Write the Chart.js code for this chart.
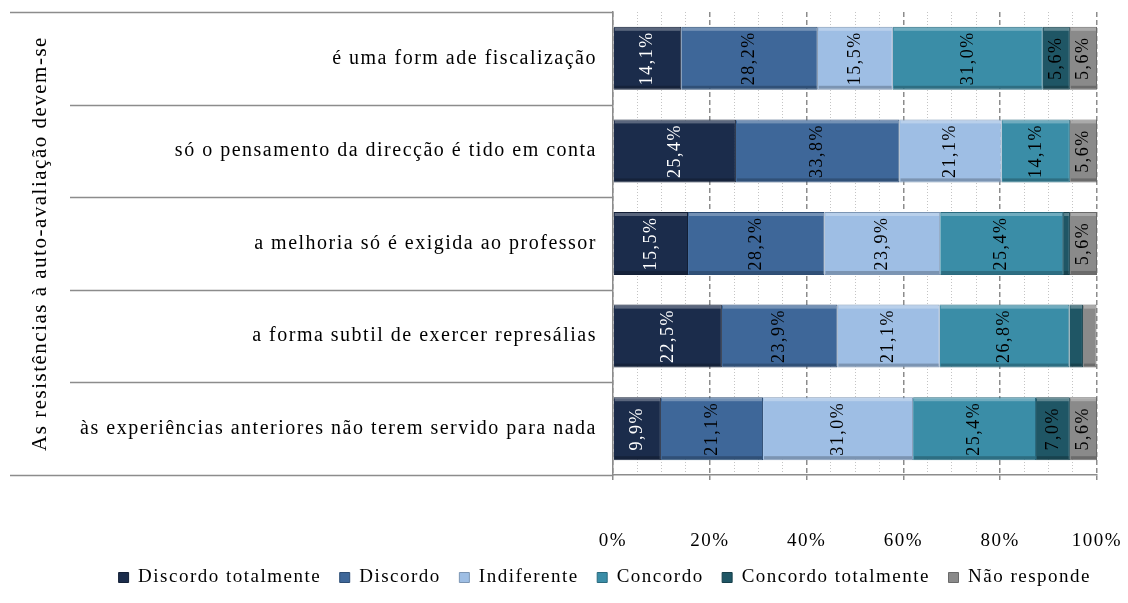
<!DOCTYPE html>
<html>
<head>
<meta charset="utf-8">
<script src="https://cdn.jsdelivr.net/npm/chart.js@4/dist/chart.umd.min.js"></script>
<style>
    html, body { margin: 0; padding: 0; background: #fff; }
    #wrap { width: 1128px; height: 603px; }
</style>
</head>
<body>
<div id="wrap"><canvas id="chart"></canvas></div>
<script>
const categories = [
    'é uma form ade fiscalização',
    'só o pensamento da direcção é tido em conta',
    'a melhoria só é exigida ao professor',
    'a forma subtil de exercer represálias',
    'às experiências anteriores não terem servido para nada'
];
const seriesNames = ['Discordo totalmente', 'Discordo', 'Indiferente', 'Concordo', 'Concordo totalmente', 'Não responde'];
const discordoTotalmente = [14.1, 25.4, 15.5, 22.5, 9.9];
const discordo = [28.2, 33.8, 28.2, 23.9, 21.1];
const indiferente = [15.5, 21.1, 23.9, 21.1, 31.0];
const concordo = [31.0, 14.1, 25.4, 26.8, 25.4];
const concordoTotalmente = [5.6, 0, 1.4, 2.8, 7.0];
const naoResponde = [5.6, 5.6, 5.6, 2.8, 5.6];
const axisTitle = 'As resistências à auto-avaliação devem-se';

const fills = ['#1b2c4b', '#3e6799', '#9ebee4', '#3a8da7', '#1f5665', '#8a8a8a'];
const edges = ['#131f36', '#2d4d74', '#7d96b4', '#2a6a7e', '#163f4a', '#6a6a6a'];
const labelColors = ['#ffffff', '#000000', '#000000', '#000000', '#000000', '#000000'];
const serif = '"Liberation Serif", "Times New Roman", serif';

// Excel spreads its letters a little; canvas state is reset on resize so set it often
const spacing = {
    id: 'spacing',
    beforeUpdate(chart) { chart.ctx.letterSpacing = '1.5px'; },
    beforeLayout(chart) { chart.ctx.letterSpacing = '1.5px'; },
    beforeDraw(chart) { chart.ctx.letterSpacing = '1.5px'; }
};

// lines between the category labels, like the Excel axis
const categoryLines = {
    id: 'categoryLines',
    afterDraw(chart) {
        const y = chart.scales.y;
        const ctx = chart.ctx;
        const left = chart.chartArea.left;
        ctx.save();
        ctx.strokeStyle = '#8c8c8c';
        ctx.lineWidth = 1.5;
        for (let i = 0; i <= categories.length; i++) {
            const py = Math.round(y.getPixelForValue(i - 0.5)) + 0.5;
            const outer = (i === 0 || i === categories.length);
            ctx.beginPath();
            ctx.moveTo(outer ? y.left : y.left + 60, py);
            ctx.lineTo(left, py);
            ctx.stroke();
        }
        ctx.restore();
    }
};

// bevel shading and rotated value labels
const barLabels = {
    id: 'barLabels',
    afterDatasetsDraw(chart) {
        const ctx = chart.ctx;
        ctx.save();
        chart.data.datasets.forEach((ds, di) => {
            const meta = chart.getDatasetMeta(di);
            meta.data.forEach((bar, i) => {
                const v = ds.data[i];
                if (!v) return;
                const p = bar.getProps(['x', 'y', 'base', 'height'], true);
                const x0 = Math.min(p.x, p.base), w = Math.abs(p.x - p.base);
                const top = p.y - p.height / 2;
                ctx.fillStyle = 'rgba(255,255,255,0.28)';
                ctx.fillRect(x0 + 1, top + 1, w - 2, 3);
                ctx.fillStyle = 'rgba(0,0,0,0.22)';
                ctx.fillRect(x0 + 1, top + p.height - 4, w - 2, 3);
                if (v < 4) return;
                ctx.save();
                ctx.translate(x0 + w / 2, p.y);
                ctx.rotate(-Math.PI / 2);
                ctx.font = '18px ' + serif;
                ctx.fillStyle = labelColors[di];
                ctx.textAlign = 'center';
                ctx.textBaseline = 'middle';
                ctx.fillText(v.toFixed(1).replace('.', ',') + '%', 0, 0);
                ctx.restore();
            });
        });
        ctx.restore();
    }
};

const seriesData = [discordoTotalmente, discordo, indiferente, concordo, concordoTotalmente, naoResponde];

new Chart(document.getElementById('chart'), {
    type: 'bar',
    data: {
        labels: categories,
        datasets: seriesNames.map((name, k) => ({
            label: name,
            data: seriesData[k],
            backgroundColor: fills[k],
            borderColor: edges[k],
            borderWidth: 1,
            barPercentage: 0.68,
            categoryPercentage: 1
        }))
    },
    options: {
        indexAxis: 'y',
        responsive: true,
        maintainAspectRatio: false,
        animation: false,
        layout: { padding: { left: 10, right: 31, top: 12, bottom: 6 } },
        plugins: {
            legend: {
                position: 'bottom',
                align: 'end',
                labels: {
                    color: '#000',
                    font: { family: serif, size: 19 },
                    boxWidth: 10,
                    boxHeight: 10,
                    padding: 6,
                    generateLabels: (chart) => {
                        const items = Chart.defaults.plugins.legend.labels.generateLabels(chart);
                        // wider gaps between the entries, as in Excel
                        items.forEach((it, k) => {
                            if (k < items.length - 1) it.text = it.text + '\u00a0\u00a0';
                        });
                        return items;
                    }
                }
            },
            tooltip: { enabled: false }
        },
        scales: {
            x: {
                stacked: true,
                min: 0,
                max: 100,
                ticks: {
                    stepSize: 5,
                    autoSkip: false,
                    maxRotation: 0,
                    color: '#000',
                    padding: 50,
                    font: { family: serif, size: 19 },
                    callback: (v) => (v % 20 === 0 ? v + '%' : '')
                },
                grid: {
                    color: (c) => (c.tick && c.tick.value % 20 === 0 ? '#8c8c8c' : '#c4c4c4'),
                    lineWidth: (c) => (c.tick && c.tick.value % 20 === 0 ? 1.5 : 1),
                    tickColor: (c) => (c.tick && c.tick.value % 20 === 0 ? '#8c8c8c' : 'rgba(0,0,0,0)'),
                    tickLength: 5
                },
                border: {
                    color: '#8c8c8c',
                    width: 1.5,
                    dash: (c) => (c.tick && c.tick.value % 20 === 0 ? [5, 3] : [1, 2])
                },
                afterFit: (scale) => {
                    scale.height = 87;
                    scale.paddingLeft = 0;
                    scale.paddingRight = 0;
                }
            },
            y: {
                stacked: true,
                ticks: {
                    color: '#000',
                    padding: 8,
                    font: { family: serif, size: 20 }
                },
                grid: { display: false },
                border: { color: '#8c8c8c', width: 1.5 },
                title: {
                    display: true,
                    text: axisTitle,
                    color: '#000',
                    font: { family: serif, size: 21 },
                    padding: { top: 18, bottom: 0 }
                },
                afterFit: (scale) => {
                    scale.width = 603;
                    scale.paddingTop = 0;
                    scale.paddingBottom = 0;
                }
            }
        }
    },
    plugins: [spacing, categoryLines, barLabels]
});
</script>
</body>
</html>
